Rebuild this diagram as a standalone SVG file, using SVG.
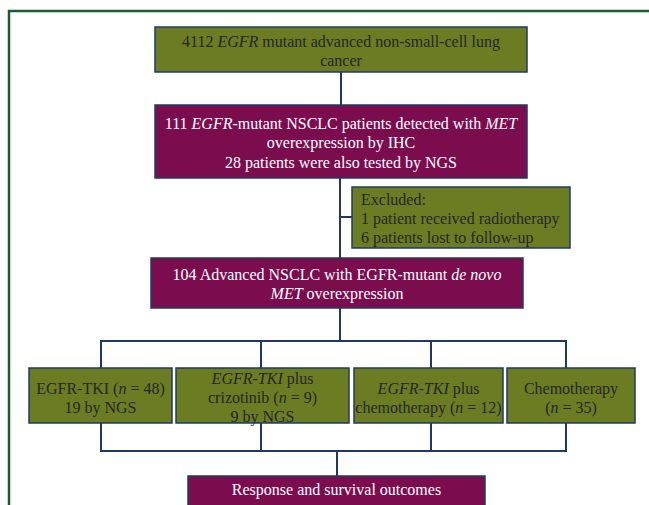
<svg xmlns="http://www.w3.org/2000/svg" width="649" height="505" viewBox="0 0 649 505">
<style>
.frame{fill:none;stroke:#1d5c32;stroke-width:2.5}
.olive{fill:#6b7c23;stroke:#1f3b63;stroke-width:1.5}
.maroon{fill:#7b0c4e;stroke:#1f3b63;stroke-width:1.5}
.conn{fill:none;stroke:#1f3864;stroke-width:2}
text{font-family:"Liberation Serif","Times New Roman",serif;font-size:16px}
.dk{fill:#262626}
.wt{fill:#ffffff}
.c{text-anchor:middle}
</style>
<rect width="649" height="505" fill="#ffffff"/>
<path class="frame" d="M9,505 V11 H649"/>
<g id="connectors">
<path class="conn" d="M341,72 V105"/>
<path class="conn" d="M340,178 V258"/>
<path class="conn" d="M340,217 H352"/>
<path class="conn" d="M340,308 V341"/>
<path class="conn" d="M101,368 V341 H566 V368"/>
<path class="conn" d="M261,341 V368"/>
<path class="conn" d="M431,341 V368"/>
<path class="conn" d="M101,423 V451 H566 V423"/>
<path class="conn" d="M261,423 V451"/>
<path class="conn" d="M431,423 V451"/>
<path class="conn" d="M337,451 V476"/>
</g>
<g id="n1">
<rect class="olive" x="155" y="27" width="372" height="45"/>
<text class="dk c" x="341" y="47">4112 <tspan font-style="italic">EGFR</tspan> mutant advanced non-small-cell lung</text>
<text class="dk c" x="341" y="66">cancer</text>
</g>
<g id="n2">
<rect class="maroon" x="155" y="105" width="372" height="73"/>
<text class="wt c" x="341" y="129">111 <tspan font-style="italic">EGFR</tspan>-mutant NSCLC patients detected with <tspan font-style="italic">MET</tspan></text>
<text class="wt c" x="341" y="148">overexpression by IHC</text>
<text class="wt c" x="341" y="168">28 patients were also tested by NGS</text>
</g>
<g id="excluded">
<rect class="olive" x="352" y="187" width="218" height="61"/>
<text class="dk" x="361" y="205">Excluded:</text>
<text class="dk" x="361" y="224">1 patient received radiotherapy</text>
<text class="dk" x="361" y="243">6 patients lost to follow-up</text>
</g>
<g id="n3">
<rect class="maroon" x="151" y="258" width="372" height="50"/>
<text class="wt c" x="337" y="280">104 Advanced NSCLC with EGFR-mutant <tspan font-style="italic">de novo</tspan></text>
<text class="wt c" x="337" y="299"><tspan font-style="italic">MET</tspan> overexpression</text>
</g>
<g id="tki">
<rect class="olive" x="29" y="368" width="143" height="55"/>
<text class="dk c" x="100.5" y="394">EGFR-TKI (<tspan font-style="italic">n</tspan> = 48)</text>
<text class="dk c" x="100.5" y="413">19 by NGS</text>
</g>
<g id="tki-criz">
<rect class="olive" x="176" y="368" width="173" height="55"/>
<text class="dk c" x="262.5" y="384"><tspan font-style="italic">EGFR-TKI</tspan> plus</text>
<text class="dk c" x="262.5" y="403">crizotinib (<tspan font-style="italic">n</tspan> = 9)</text>
<text class="dk c" x="262.5" y="422">9 by NGS</text>
</g>
<g id="tki-chemo">
<rect class="olive" x="354" y="368" width="149" height="55"/>
<text class="dk c" x="428.5" y="394"><tspan font-style="italic">EGFR-TKI</tspan> plus</text>
<text class="dk c" x="428.5" y="413">chemotherapy (<tspan font-style="italic">n</tspan> = 12)</text>
</g>
<g id="chemo">
<rect class="olive" x="507" y="368" width="128" height="55"/>
<text class="dk c" x="571" y="394">Chemotherapy</text>
<text class="dk c" x="571" y="413">(<tspan font-style="italic">n</tspan> = 35)</text>
</g>
<g id="outcomes">
<rect class="maroon" x="188" y="476" width="297" height="30"/>
<text class="wt c" x="336.5" y="495">Response and survival outcomes</text>
</g>
</svg>
